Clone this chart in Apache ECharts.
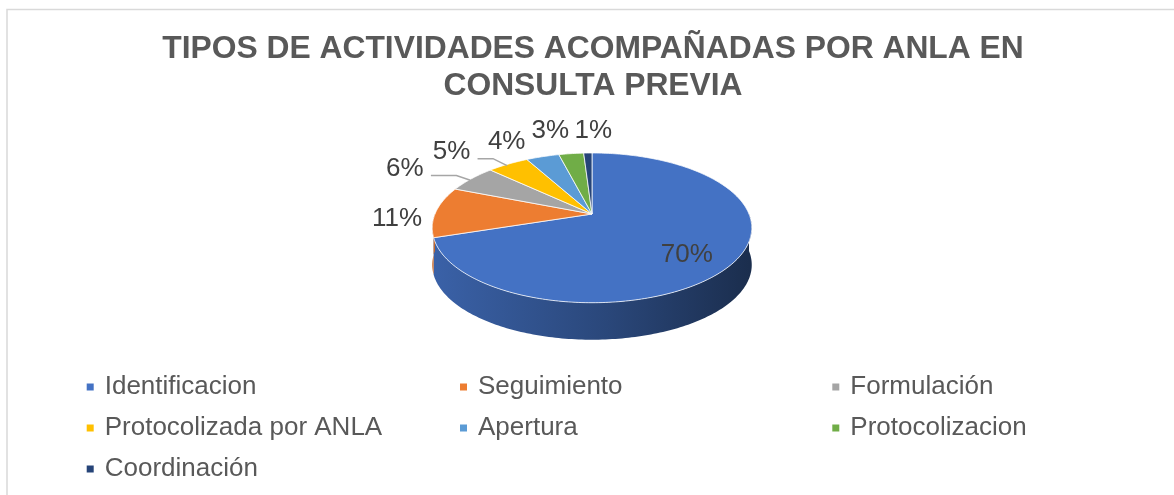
<!DOCTYPE html>
<html>
<head>
<meta charset="utf-8">
<title>Tipos de actividades ANLA</title>
<script src="https://cdn.jsdelivr.net/npm/echarts@6/dist/echarts.min.js"></script>
<style>
  html, body { margin: 0; padding: 0; background: #fff; }
  #chart { width: 1174px; height: 495px; }
</style>
</head>
<body>
<div id="chart"></div>
<script>
// datos del grafico
const categories = ['Identificacion', 'Seguimiento', 'Formulación', 'Protocolizada por ANLA', 'Apertura', 'Protocolizacion', 'Coordinación'];
const values = [70, 11, 6, 5, 4, 3, 1];
const colors = ['#4472C4', '#ED7D31', '#A5A5A5', '#FFC000', '#5B9BD5', '#70AD47', '#264478'];
const legendCols = [[0, 3, 6], [1, 4], [2, 5]];

// geometria del pastel 3D (perspectiva simple)
const FONT = "'Liberation Sans', Arial, sans-serif";
const cx = 592, cy = 214, rx = 157, ry = 72.3, persp = -0.185, depth = 37;
const labelRadius = [0.66, 1, 1, 1, 1, 1, 1];
const labelNudge = [[4.5, 11], [-39, 7], [-66.5, -9.7], [-56.5, -12], [-36, -15], [-21, -22.6], [5.5, -22]];
const leader = [false, false, true, true, false, false, false];
const legendLeft = [86.7, 460, 832.3];

const total = values.reduce((a, b) => a + b, 0);
const startAt = [];
values.reduce((acc, v, i) => { startAt[i] = acc; return acc + v; }, 0);

function proj(theta, f, dy) {
  const t = -Math.cos(theta) * f;
  const d = 1 + persp * t;
  return [cx + rx * f * Math.sin(theta) / d, cy + ry * t / d + (dy || 0)];
}

function arc(a, b, dy) {
  const pts = [];
  const n = Math.max(2, Math.ceil((b - a) / (Math.PI / 180)));
  for (let k = 0; k <= n; k++) {
    pts.push(proj(a + (b - a) * k / n, 1, dy));
  }
  return pts;
}

function shade(hex, k) {
  const n = parseInt(hex.slice(1), 16);
  const r = Math.round(((n >> 16) & 255) * k);
  const g = Math.round(((n >> 8) & 255) * k);
  const b = Math.round((n & 255) * k);
  return 'rgb(' + r + ',' + g + ',' + b + ')';
}

function makeRender(i) {
  return function (params, api) {
    const v = api.value(0);
    const a = startAt[i] / total * 2 * Math.PI;
    const b = a + v / total * 2 * Math.PI;
    const kids = [];

    // cara lateral visible (mitad frontal)
    const s0 = Math.max(a, Math.PI / 2), s1 = Math.min(b, 3 * Math.PI / 2);
    if (s1 > s0) {
      const top = arc(s0, s1, 0);
      const bot = arc(s0, s1, depth).reverse();
      kids.push({
        type: 'polygon', z2: 1,
        shape: { points: top.concat(bot) },
        style: {
          fill: new echarts.graphic.LinearGradient(cx - rx, 0, cx + rx, 0, [
            { offset: 0, color: shade(colors[i], 0.85) },
            { offset: 0.55, color: shade(colors[i], 0.62) },
            { offset: 1, color: shade(colors[i], 0.4) }
          ], true)
        }
      });
    }

    // cara superior
    kids.push({
      type: 'polygon', z2: 10,
      shape: { points: [[cx, cy]].concat(arc(a, b, 0)) },
      style: { fill: colors[i], stroke: 'rgba(255,255,255,0.75)', lineWidth: 1 }
    });

    // etiqueta
    const mid = (a + b) / 2;
    const rim = proj(mid, labelRadius[i], 0);
    const lx = rim[0] + labelNudge[i][0], ly = rim[1] + labelNudge[i][1];
    kids.push({
      type: 'text', z2: 20,
      style: {
        text: Math.round(v / total * 100) + '%',
        x: lx, y: ly, align: 'center', verticalAlign: 'middle',
        fontSize: 26, fontFamily: FONT, fill: '#404040'
      }
    });
    if (leader[i]) {
      kids.push({
        type: 'polyline', z2: 15,
        shape: { points: [[lx + 26, ly + 6.5], [rim[0] - 15, ly + 6.5], [rim[0] - 1, rim[1] + 1.5]] },
        style: { stroke: '#a6a6a6', lineWidth: 1.5, fill: null }
      });
    }
    return { type: 'group', children: kids };
  };
}

let chart = echarts.init(document.getElementById('chart'));
chart.setOption({
  backgroundColor: '#fff',
  animation: false,
  title: {
    text: 'TIPOS DE ACTIVIDADES ACOMPAÑADAS POR ANLA EN\nCONSULTA PREVIA',
    left: 593,
    textAlign: 'center',
    top: 31,
    padding: 0,
    textStyle: { fontSize: 31.8, fontWeight: 'bold', color: '#595959', fontFamily: FONT, lineHeight: 37 }
  },
  graphic: [{
    type: 'rect',
    shape: { x: 7, y: 9.5, width: 1200, height: 520 },
    style: { fill: 'none', stroke: '#d9d9d9', lineWidth: 1.5 },
    silent: true
  }],
  legend: legendCols.map((col, k) => ({
    orient: 'vertical',
    left: legendLeft[k],
    top: 374,
    padding: 0,
    itemGap: 15,
    icon: 'rect',
    itemWidth: 7,
    itemHeight: 7,
    selectedMode: false,
    data: col.map(j => categories[j]),
    textStyle: { fontSize: 26, lineHeight: 26, color: '#595959', fontFamily: FONT, padding: [0, 0, 0, 6] }
  })),
  series: categories.map((name, i) => ({
    type: 'custom',
    name: name,
    coordinateSystem: 'none',
    silent: true,
    itemStyle: { color: colors[i] },
    renderItem: makeRender(i),
    data: [values[i]]
  }))
});
</script>
</body>
</html>
